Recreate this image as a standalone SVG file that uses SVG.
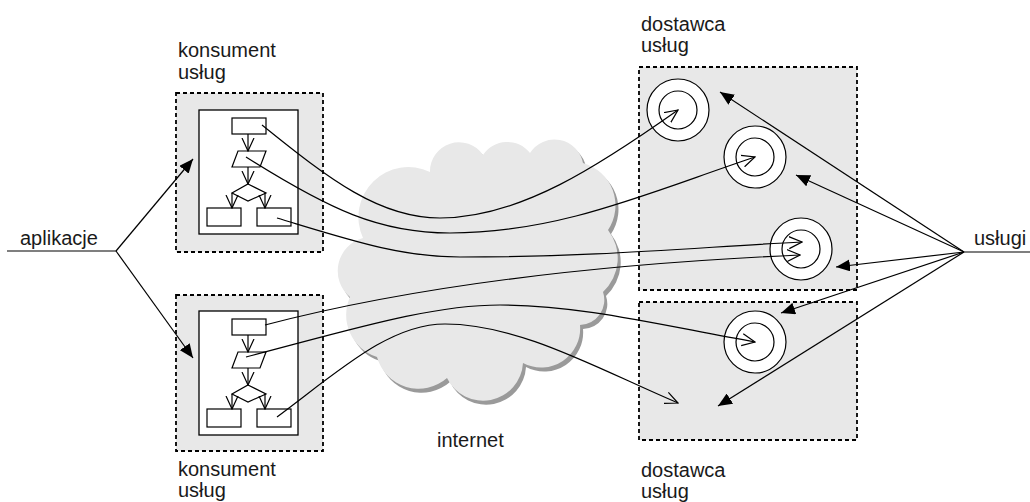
<svg xmlns="http://www.w3.org/2000/svg" width="1030" height="502" viewBox="0 0 1030 502">
<style>
text{font-family:"Liberation Sans",Arial,sans-serif;font-size:20px;fill:#1a1a1a}
.grp{fill:#e8e8e8;stroke:#000;stroke-width:1.8;stroke-dasharray:4,3}
.inner{fill:#fff;stroke:#000;stroke-width:1.3}
.fc{fill:#fff;stroke:#000;stroke-width:1.2}
.ln{fill:none;stroke:#000;stroke-width:1.2}
.fa{fill:none;stroke:#000;stroke-width:1.2;marker-end:url(#filled)}
.oa{fill:none;stroke:#000;stroke-width:1.2;marker-end:url(#open)}
.svc{fill:#fff;stroke:#000;stroke-width:1.2}
</style>
<defs>
<marker id="filled" markerUnits="userSpaceOnUse" markerWidth="14" markerHeight="12" refX="14" refY="6" orient="auto">
<path d="M0,0 L14,6 L0,12 z" fill="#000"/>
</marker>
<marker id="open" markerUnits="userSpaceOnUse" markerWidth="14" markerHeight="14" refX="13" refY="7" orient="auto">
<path d="M0,1 L13,7 L0,13" fill="none" stroke="#000" stroke-width="1.2"/>
</marker>
<path id="cloudshape" d="M363,238 A50,50 0 0 1 430,172 A29,29 0 0 1 483,155 A29,29 0 0 1 530,153 A29,29 0 0 1 583,163 A44,44 0 0 1 608,230 A46,46 0 0 1 603,292 A25,25 0 0 1 580,325 A39,39 0 0 1 523,363 A40,40 0 0 1 447,378 A43,43 0 0 1 377,357 A44,44 0 0 1 350,297 A34,34 0 0 1 363,238 Z"/>
<g id="flow">
<rect class="inner" x="199" y="110" width="99" height="124"/>
<rect class="fc" x="232" y="118" width="34" height="16"/>
<polygon class="fc" points="238,151 266,151 260,167 232,167"/>
<polygon class="fc" points="248,184 266,193 248,201 232,193"/>
<rect class="fc" x="207" y="208" width="34" height="18"/>
<rect class="fc" x="257" y="208" width="34" height="18"/>
<path class="oa" d="M248,134 L248,151"/>
<path class="oa" d="M248,167 L248,184"/>
<path class="oa" d="M232,193 L232,208"/>
<path class="oa" d="M265,193 L265,208"/>
</g>
</defs>

<g id="cloud">
<use href="#cloudshape" fill="#9a9a9a" transform="translate(3,4)"/>
<use href="#cloudshape" fill="#e8e8e8"/>
<text x="437" y="447">internet</text>
</g>

<g id="consumer-top">
<rect class="grp" x="176" y="93" width="147" height="159"/>
<use href="#flow"/>
<text x="178" y="57">konsument</text>
<text x="178" y="79">usług</text>
</g>

<g id="consumer-bottom">
<rect class="grp" x="176" y="295" width="147" height="156"/>
<use href="#flow" transform="translate(0,201)"/>
<text x="178" y="476">konsument</text>
<text x="178" y="497">usług</text>
</g>

<g id="provider-top">
<rect class="grp" x="639" y="67" width="218" height="223"/>
<circle class="svc" cx="678" cy="110" r="31"/>
<circle class="svc" cx="678" cy="110" r="19"/>
<circle class="svc" cx="755" cy="157" r="31"/>
<circle class="svc" cx="755" cy="157" r="19"/>
<circle class="svc" cx="801" cy="249" r="31"/>
<circle class="svc" cx="801" cy="249" r="19"/>
<text x="641" y="31">dostawca</text>
<text x="641" y="52">usług</text>
</g>

<g id="provider-bottom">
<rect class="grp" x="639" y="302" width="218" height="138"/>
<circle class="svc" cx="755" cy="342" r="31"/>
<circle class="svc" cx="755" cy="342" r="19"/>
<text x="641" y="477">dostawca</text>
<text x="641" y="498">usług</text>
</g>

<g id="label-aplikacje">
<text x="20" y="245">aplikacje</text>
</g>
<g id="label-uslugi">
<text x="974" y="245">usługi</text>
</g>

<g id="connectors">
<path class="ln" d="M7,251 L116,251"/>
<path class="fa" d="M116,251 L193,159"/>
<path class="fa" d="M116,251 L193,358"/>
<path class="ln" d="M964,252 L1030,252"/>
<path class="fa" d="M964,252 L720,92"/>
<path class="fa" d="M964,252 L796,175"/>
<path class="fa" d="M964,252 L836,267"/>
<path class="fa" d="M964,252 L781,313"/>
<path class="fa" d="M964,252 L718,406"/>
<path class="oa" d="M262,125 C330,180 380,218 440,218 C520,218 600,165 678,110"/>
<path class="oa" d="M246,157 C330,210 380,233 450,233 C560,233 650,192 755,157"/>
<path class="oa" d="M277,218 C350,240 400,257 460,257 C600,257 700,247 802,242"/>
<path class="oa" d="M265,325 C380,295 550,266 800,255"/>
<path class="oa" d="M246,357 C350,330 430,305 500,305 C580,305 660,325 755,342"/>
<path class="oa" d="M277,417 C340,370 390,324 445,324 C520,324 600,370 678,403"/>
</g>
</svg>
